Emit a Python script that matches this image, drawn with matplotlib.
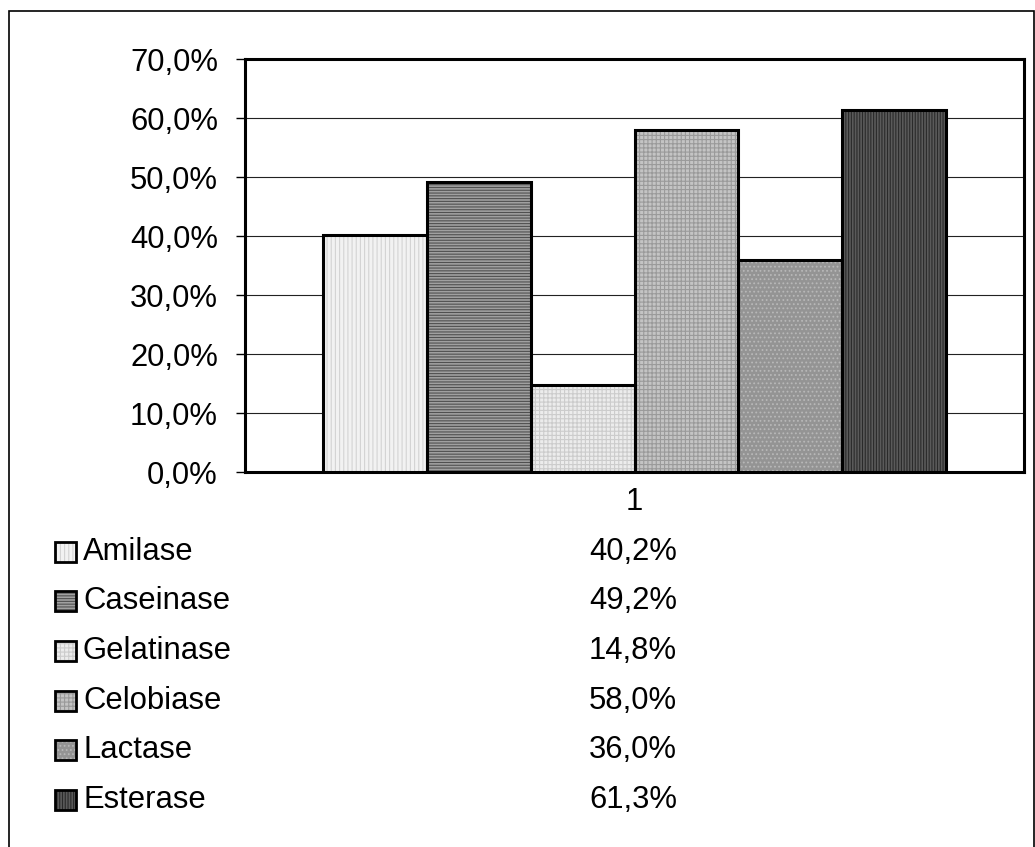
import matplotlib
matplotlib.use("Agg")
import matplotlib.pyplot as plt
from matplotlib.patches import Rectangle
from matplotlib.ticker import FuncFormatter

# Enzyme activity data (percentage of positive isolates)
enzymes = ["Amilase", "Caseinase", "Gelatinase", "Celobiase", "Lactase", "Esterase"]
values = [40.2, 49.2, 14.8, 58.0, 36.0, 61.3]
category_labels = ["1"]
y_ticks = [0, 10, 20, 30, 40, 50, 60, 70]

# Grey-scale fills with fine texture for each series
face_colors = ["#f2f2f2", "#a0a0a0", "#ececec", "#c4c4c4", "#949494", "#5a5a5a"]
hatch_colors = ["#d4d4d4", "#505050", "#cccccc", "#9a9a9a", "#b8b8b8", "#2a2a2a"]
hatches = ["||||", "------", "++++", "++++", "....", "||||||"]

plt.rcParams["font.family"] = ["Liberation Sans", "DejaVu Sans"]
plt.rcParams["hatch.linewidth"] = 0.8
FS = 22.3

W, H = 1035, 847
fig = plt.figure(figsize=(W / 100, H / 100), dpi=100)
fig.patch.set_facecolor("white")


def fx(px):
    return px / W


def fy(py):
    return 1 - py / H


# Outer chart frame
fig.add_artist(Rectangle((fx(9), fy(860)), fx(1034) - fx(9), fy(11) - fy(860),
                         transform=fig.transFigure, fill=False, lw=1.2,
                         edgecolor="black"))

ax = fig.add_axes([fx(245), fy(472), fx(1024) - fx(245), fy(59) - fy(472)])

n = len(enzymes)
group_width = 0.801
bar_w = group_width / n
for i, (v, fc, hc, h) in enumerate(zip(values, face_colors, hatch_colors, hatches)):
    x = 0 + (i - (n - 1) / 2) * bar_w
    ax.bar(x, v, width=bar_w, color=fc, edgecolor=hc, hatch=h, linewidth=0, zorder=3)
    ax.bar(x, v, width=bar_w, fill=False, edgecolor="black", linewidth=2.2, zorder=4)

ax.set_xlim(-0.5, 0.5)
ax.set_ylim(0, 70)
ax.set_yticks(y_ticks)
ax.yaxis.set_major_formatter(FuncFormatter(lambda v, p: f"{v:.1f}%".replace(".", ",")))
ax.set_xticks([0])
ax.set_xticklabels(category_labels)
ax.tick_params(axis="y", labelsize=FS, length=6.5, width=1, pad=13)
ax.tick_params(axis="x", labelsize=FS, length=0, pad=11)
ax.grid(axis="y", color="#222222", linewidth=0.8, zorder=0)
for s in ax.spines.values():
    s.set_linewidth(2.2)
    s.set_color("black")

# Data table below the plot: legend keys, names and values
row_y = [552, 601, 651, 701, 750, 800]
for name, v, fc, hc, h, ry in zip(enzymes, values, face_colors, hatch_colors, hatches, row_y):
    x0, x1 = fx(55), fx(76)
    y0, y1 = fy(ry + 10), fy(ry - 10)
    fig.add_artist(Rectangle((x0, y0), x1 - x0, y1 - y0, transform=fig.transFigure,
                             facecolor=fc, edgecolor=hc, hatch=h, linewidth=0))
    fig.add_artist(Rectangle((x0, y0), x1 - x0, y1 - y0, transform=fig.transFigure,
                             fill=False, edgecolor="black", linewidth=2))
    fig.text(fx(83), fy(ry), name, fontsize=FS, ha="left", va="center")
    fig.text(fx(633), fy(ry), f"{v:.1f}%".replace(".", ","), fontsize=FS,
             ha="center", va="center")

fig.savefig("out.png", dpi=100, facecolor="white")
